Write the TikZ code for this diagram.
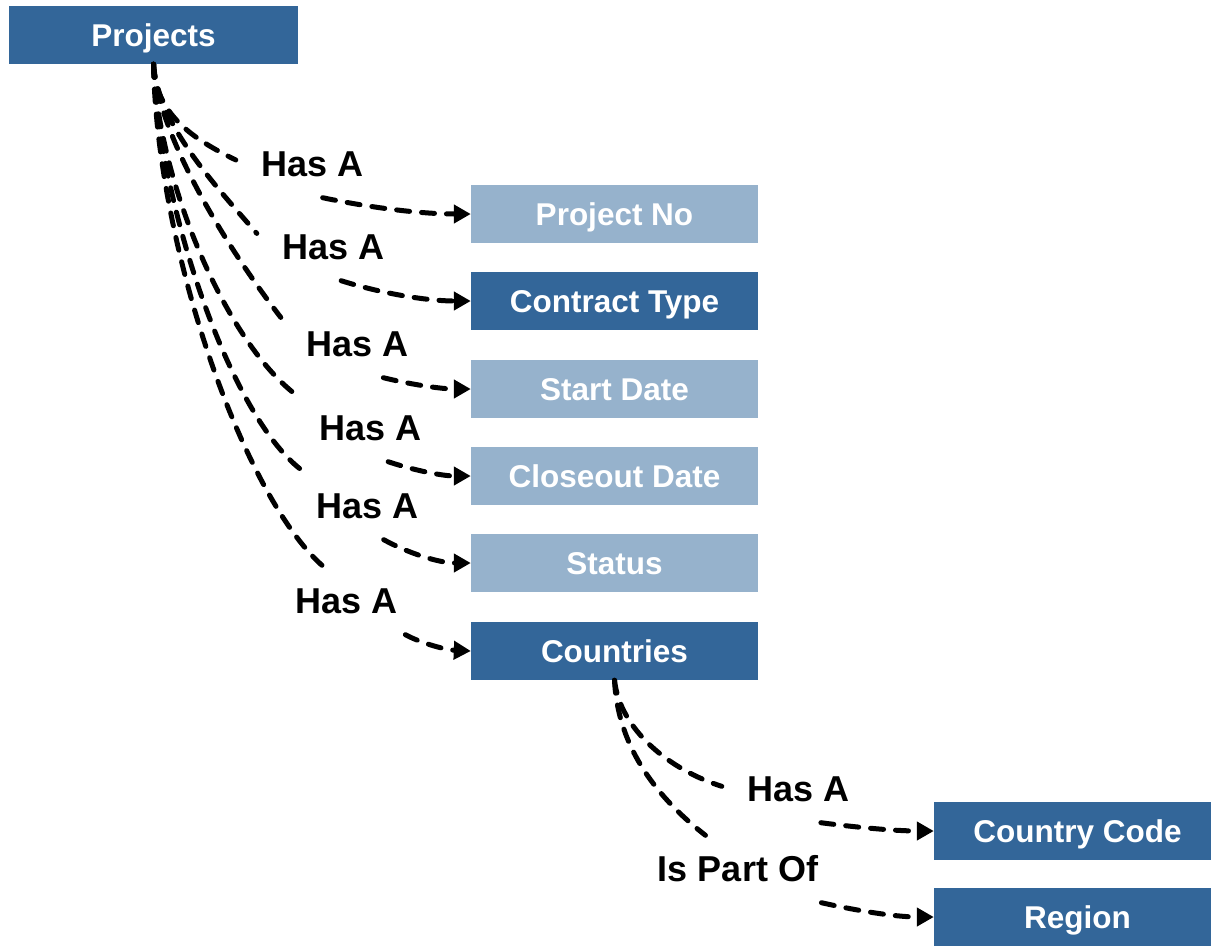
\documentclass[tikz,border=0pt]{standalone}
\usepackage{fontspec}
\setmainfont{Liberation Sans}
\usetikzlibrary{arrows.meta}
\definecolor{boxdark}{RGB}{51,102,153}
\definecolor{boxlight}{RGB}{150,178,204}
\begin{document}
\begin{tikzpicture}[x=1pt,y=-1pt,
  entity/.style={rectangle, minimum width=287pt, minimum height=58pt,
    inner sep=0pt, text=white, text height=22.7pt, text depth=0pt,
    font=\fontsize{31.5}{36}\selectfont\bfseries},
  darkbox/.style={entity, fill=boxdark},
  lightbox/.style={entity, fill=boxlight},
  rel/.style={rectangle, inner xsep=26pt, inner ysep=0pt, minimum height=67pt,
    font=\fontsize{36}{40}\selectfont\bfseries},
  conn/.style={line width=5pt, line cap=round, dash pattern=on 13pt off 12pt},
  arr/.style={conn, -{Triangle[length=17pt,width=18pt]}}]
\useasboundingbox (0,0) rectangle (1211,946);

% entities
\node[darkbox, minimum width=289pt] (proj) at (153.5,35) {Projects};
\node[lightbox] (pno)   at (614.5,214) {Project No};
\node[darkbox]  (ctype) at (614.5,301) {Contract Type};
\node[lightbox] (sdate) at (614.5,389) {Start Date};
\node[lightbox] (cdate) at (614.5,476) {Closeout Date};
\node[lightbox] (stat)  at (614.5,563) {Status};
\node[darkbox]  (ctry)  at (614.5,651) {Countries};
\node[darkbox] (ccode) at (1077.5,831) {Country Code};
\node[darkbox] (reg)   at (1077.5,917) {Region};

% relation labels
\node[rel] (l1) at (313,164) {Has A};
\node[rel] (l2) at (334,247) {Has A};
\node[rel] (l3) at (358,344) {Has A};
\node[rel] (l4) at (371,428) {Has A};
\node[rel] (l5) at (368,506) {Has A};
\node[rel] (l6) at (347,601) {Has A};
\node[rel] (l7) at (799,789) {Has A};
\node[rel] (l8) at (738,869) {Is Part Of};

% Projects -> attributes
\draw[conn] (proj.south) .. controls (155,115) and (195,140) .. (l1.177);
\draw[arr] (l1.-74) .. controls (367,207) and (419,214) .. (pno.west);

\draw[conn] (proj.south) .. controls (158,125) and (215,185) .. (l2.170);
\draw[arr] (l2.-78) .. controls (380,293) and (426,301) .. (ctype.west);

\draw[conn] (proj.south) .. controls (158,135) and (225,245) .. (l3.161);
\draw[arr] (l3.-53) .. controls (409,384) and (440,389) .. (sdate.west);

\draw[conn] (proj.south) .. controls (158,180) and (225,340) .. (l4.156);
\draw[arr] (l4.-63) .. controls (413,470) and (442,476) .. (cdate.west);

\draw[conn] (proj.south) .. controls (158,200) and (230,420) .. (l5.152);
\draw[arr] (l5.-65) .. controls (410,554) and (440,563) .. (stat.west);

\draw[conn] (proj.south) .. controls (157,250) and (245,500) .. (l6.124);
\draw[arr] (l6.-30) .. controls (423,644) and (447,650) .. (ctry.west);

% Countries -> attributes
\draw[conn] (ctry.south) .. controls (620,730) and (670,770) .. (l7.178);
\draw[arr] (l7.-57) .. controls (854,827) and (894,831) .. (ccode.west);

\draw[conn] (ctry.south) .. controls (618,750) and (660,800) .. (l8.134);
\draw[arr] (l8.-22) .. controls (854,910) and (894,917) .. (reg.west);
\end{tikzpicture}
\end{document}
